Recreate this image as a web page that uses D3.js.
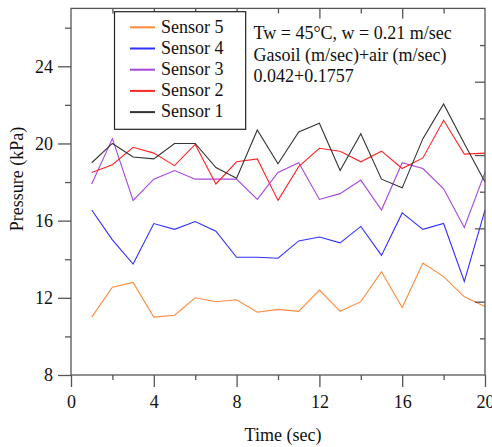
<!DOCTYPE html>
<html><head><meta charset="utf-8">
<script src="https://cdn.jsdelivr.net/npm/d3@7"></script>
<style>
body{margin:0;background:#fff;}
svg text{font-family:"Liberation Serif","Times New Roman",serif !important;fill:#111;}
</style></head>
<body><svg id="c" width="492" height="447" font-family="Liberation Serif"></svg>
<script>
const times = [1,2,3,4,5,6,7,8,9,10,11,12,13,14,15,16,17,18,19,20];
const sensor5 = [11.0,12.55,12.8,11.0,11.1,12.0,11.8,11.9,11.25,11.4,11.3,12.4,11.3,11.8,13.35,11.5,13.8,13.1,12.05,11.55];
const sensor4 = [16.55,15.0,13.75,15.85,15.55,15.95,15.45,14.1,14.1,14.05,14.95,15.15,14.85,15.7,14.2,16.4,15.55,15.85,12.85,16.55];
const sensor3 = [17.9,20.25,17.05,18.15,18.6,18.15,18.15,18.15,17.1,18.5,19.0,17.1,17.4,18.1,16.55,19.0,18.7,17.65,15.65,18.5];
const sensor2 = [18.5,18.9,19.8,19.5,18.85,19.95,17.9,19.05,19.2,17.05,18.8,19.75,19.6,19.05,19.6,18.7,19.25,21.2,19.45,19.5];
const sensor1 = [19.0,20.0,19.3,19.2,20.0,20.0,18.75,18.2,20.7,18.95,20.6,21.05,18.6,20.5,18.15,17.7,20.25,22.05,20.0,18.0];
const seriesNames = ["Sensor 5","Sensor 4","Sensor 3","Sensor 2","Sensor 1"];
const seriesValues = [sensor5,sensor4,sensor3,sensor2,sensor1];
const seriesColors = ["#ff8a3d","#2f2fff","#a845e0","#ff2424","#333333"];
const xTicks = [0,2,4,6,8,10,12,14,16,18,20];
const yTicks = [8,10,12,14,16,18,20,22,24,26];
const rightTicks = [0,1,2,3,4,5,6,7,8,9,10];
const annotation = ["Tw = 45\u00B0C, w = 0.21 m/sec","Gasoil (m/sec)+air (m/sec)","0.042+0.1757"];

const FONT = "Liberation Serif";
const svg = d3.select("#c");
const L=71, R=485, T=8.4, B=375;
const x = d3.scaleLinear().domain([0,20]).range([L,R]);
const y = d3.scaleLinear().domain([8,27]).range([B,T]);
const yR = d3.scaleLinear().domain([0,10]).range([B,T]);
const axisColor = "#555";

// series lines
const line = d3.line().x((d,i)=>x(times[i])).y(d=>y(d));
seriesValues.forEach((vals,k)=>{
  svg.append("path").datum(vals).attr("d",line)
    .attr("fill","none").attr("stroke",seriesColors[k]).attr("stroke-width",1.1);
});

// frame
svg.append("rect").attr("x",L).attr("y",T).attr("width",R-L).attr("height",B-T)
  .attr("fill","none").attr("stroke",axisColor).attr("stroke-width",1.3);

function styleAxis(g){
  g.attr("font-family",FONT).attr("font-size",18);
  g.select(".domain").remove();
  g.selectAll("line").attr("stroke",axisColor).attr("stroke-width",1.3);
  g.selectAll("text").attr("font-size",18).attr("font-family",FONT).attr("fill","#111");
}
// bottom axis
const gx = svg.append("g").attr("transform",`translate(0,${B})`)
  .call(d3.axisBottom(x).tickValues(xTicks).tickSizeOuter(0).tickSize(12).tickPadding(8)
    .tickFormat(d=>d%4===0?d:""));
styleAxis(gx);
gx.selectAll(".tick").filter(d=>d%4!==0).select("line").attr("y2",5);
// left axis
const gy = svg.append("g").attr("transform",`translate(${L},0)`)
  .call(d3.axisLeft(y).tickValues(yTicks).tickSizeOuter(0).tickSize(13).tickPadding(5)
    .tickFormat(d=>d%4===0?d:""));
styleAxis(gy);
gy.selectAll(".tick").filter(d=>d%4!==0).select("line").attr("x2",-6);
// top axis (inward)
const gt = svg.append("g").attr("transform",`translate(0,${T})`)
  .call(d3.axisTop(x).tickValues(xTicks.slice(1,-1)).tickSizeOuter(0).tickSize(-10).tickFormat(""));
styleAxis(gt);
gt.selectAll(".tick").filter(d=>d%4!==0).select("line").attr("y2",5);
// right axis (inward)
const gr = svg.append("g").attr("transform",`translate(${R},0)`)
  .call(d3.axisRight(yR).tickValues(rightTicks.slice(1,-1)).tickSizeOuter(0).tickSize(-10).tickFormat(""));
styleAxis(gr);
gr.selectAll(".tick").filter(d=>d%2!==0).select("line").attr("x2",-5);

// axis titles
svg.append("text").attr("x",283).attr("y",441).attr("text-anchor","middle")
  .attr("font-family",FONT).attr("font-size",18).text("Time (sec)");
svg.append("text").attr("transform","translate(22.5,179) rotate(-90)").attr("text-anchor","middle")
  .attr("font-family",FONT).attr("font-size",18).text("Pressure (kPa)");

// legend
const lg = svg.append("g");
lg.append("rect").attr("x",114.5).attr("y",11.7).attr("width",131.2).attr("height",117.6)
  .attr("fill","#fff").attr("stroke","#222").attr("stroke-width",1.2);
seriesNames.forEach((n,i)=>{
  const ly = 27.3 + i*21.2;
  lg.append("line").attr("x1",130).attr("x2",155).attr("y1",ly).attr("y2",ly)
    .attr("stroke",seriesColors[i]).attr("stroke-width",2);
  lg.append("text").attr("x",161).attr("y",ly+5.2).attr("font-family",FONT).attr("font-size",18).text(n);
});

// annotation
annotation.forEach((t,i)=>{
  svg.append("text").attr("x",253.5).attr("y",39+i*21.7).attr("font-family",FONT).attr("font-size",18).text(t);
});
</script></body></html>
